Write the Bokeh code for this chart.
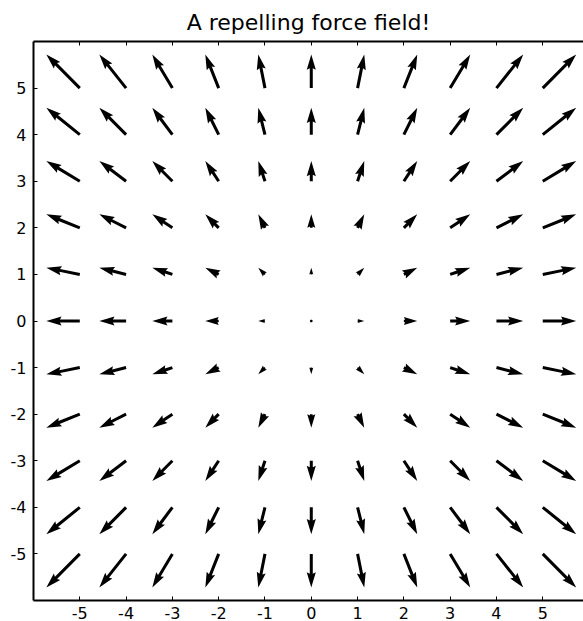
import numpy as np
from bokeh.plotting import figure
from bokeh.models import LinearAxis, FixedTicker, Range1d
from bokeh.embed import file_html
from bokeh.resources import INLINE

# ---- data ----
x_values = [-5, -4, -3, -2, -1, 0, 1, 2, 3, 4, 5]
y_values = [-5, -4, -3, -2, -1, 0, 1, 2, 3, 4, 5]
tick_values = [-5, -4, -3, -2, -1, 0, 1, 2, 3, 4, 5]
tick_labels = ["-5", "-4", "-3", "-2", "-1", "0", "1", "2", "3", "4", "5"]
title_text = "A repelling force field!"

# repelling field: each vector points away from the origin, magnitude = distance
X, Y = np.meshgrid(np.array(x_values, float), np.array(y_values, float))
U = X.copy()
V = Y.copy()

# ---- quiver geometry (matplotlib-style arrows, tail at grid point) ----
HEADWIDTH, HEADLENGTH, HEADAXISLENGTH = 3.0, 5.0, 4.5
MINSHAFT, MINLENGTH = 1.0, 1.0
span = 12.0
sn = max(10.0, np.sqrt(X.size))
shaft = 0.06 * span / sn
mag = np.hypot(U, V)
scale = 1.8 * mag.mean() * sn / span

xs, ys = [], []
ii = [0, 1, 2, 3, 2, 1, 0, 0]
minsh = MINSHAFT * HEADLENGTH
for x0, y0, u, v, a in zip(X.ravel(), Y.ravel(), U.ravel(), V.ravel(), mag.ravel()):
    L = a / scale / shaft
    if L < MINLENGTH:
        th = np.arange(0, 8) * np.pi / 3.0
        px = np.cos(th) * MINLENGTH * 0.5
        py = np.sin(th) * MINLENGTH * 0.5
    else:
        if L < minsh:
            bx = np.array([0, minsh - HEADAXISLENGTH, minsh - HEADLENGTH, minsh]) * (L / minsh)
            by = 0.5 * np.array([1, 1, HEADWIDTH, 0]) * (L / minsh)
        else:
            bx = np.array([0, -HEADAXISLENGTH, -HEADLENGTH, 0]) + np.array([0, 1, 1, 1]) * L
            by = 0.5 * np.array([1, 1, HEADWIDTH, 0])
        px = bx[ii]
        py = by[ii].copy()
        py[3:-1] *= -1
    ang = np.arctan2(v, u)
    c, s = np.cos(ang), np.sin(ang)
    rx = (px * c - py * s) * shaft + x0
    ry = (px * s + py * c) * shaft + y0
    xs.append(list(rx))
    ys.append(list(ry))

FONT = "DejaVu Sans"

p = figure(width=583, height=621, x_range=Range1d(-6, 5.88), y_range=Range1d(-6, 6),
           output_backend="svg", toolbar_location=None, title=title_text,
           min_border_left=33, min_border_right=0, min_border_top=10, min_border_bottom=0)
p.background_fill_color = "white"
p.border_fill_color = "white"
p.outline_line_color = None
p.xgrid.visible = False
p.ygrid.visible = False

p.title.text_font = FONT
p.title.text_font_size = "22px"
p.title.text_font_style = "normal"
p.title.align = "center"
p.title.offset = 6
p.title.standoff = 14
p.title.text_color = "black"

p.patches(xs, ys, fill_color="black", line_color=None)

ticker = FixedTicker(ticks=tick_values, minor_ticks=[])
overrides = {v: t for v, t in zip(tick_values, tick_labels)}
blank = {v: "" for v in tick_values}

def style(ax, labels=True):
    ax.ticker = ticker
    ax.axis_line_width = 2
    ax.axis_line_color = "black"
    ax.major_tick_in = 4
    ax.major_tick_out = 0
    ax.major_tick_line_width = 1
    ax.minor_tick_line_color = None
    ax.major_label_text_font = FONT
    ax.major_label_text_color = "black"
    ax.major_label_text_font_size = "16px"
    if labels:
        ax.major_label_overrides = overrides
        ax.major_label_standoff = 6
    else:
        ax.major_label_overrides = blank
        ax.major_label_standoff = 0

style(p.xaxis[0])
style(p.yaxis[0])
p.yaxis[0].major_label_standoff = 7
top = LinearAxis()
style(top, labels=False)
p.add_layout(top, "above")

open("out.html", "w").write(file_html(p, INLINE))
